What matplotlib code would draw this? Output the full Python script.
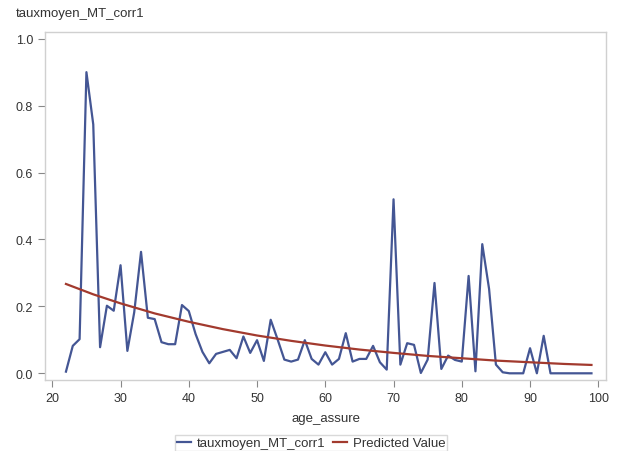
import numpy as np
import matplotlib
matplotlib.use("Agg")
import matplotlib.pyplot as plt

# ============================================================
# DATA
# ============================================================

ages = np.arange(22, 100)

taux = [
    0.005, 0.082, 0.102, 0.900, 0.744, 0.078, 0.202, 0.187, 0.323, 0.067,
    0.182, 0.363, 0.166, 0.162, 0.093, 0.087, 0.087, 0.204, 0.186, 0.117,
    0.064, 0.030, 0.058, 0.064, 0.070, 0.045, 0.110, 0.061, 0.099, 0.037,
    0.160, 0.102, 0.041, 0.035, 0.041, 0.099, 0.043, 0.026, 0.063, 0.026,
    0.043, 0.120, 0.035, 0.043, 0.043, 0.082, 0.033, 0.011, 0.520, 0.026,
    0.090, 0.085, 0.001, 0.041, 0.270, 0.013, 0.053, 0.040, 0.035, 0.291,
    0.006, 0.386, 0.252, 0.026, 0.003, 0.000, 0.000, 0.000, 0.075, 0.000,
    0.112, 0.000, 0.000, 0.000, 0.000, 0.000, 0.000, 0.000,
]

pred_ages = [22, 26, 30, 35, 40, 45, 50, 55, 60, 65, 70, 75, 80, 85, 90, 95, 99]
pred_vals = [0.267, 0.236, 0.209, 0.179, 0.154, 0.132, 0.113, 0.097, 0.083,
             0.071, 0.061, 0.052, 0.045, 0.038, 0.033, 0.028, 0.025]

x_ticks = [20, 30, 40, 50, 60, 70, 80, 90, 100]
y_ticks = [0.0, 0.2, 0.4, 0.6, 0.8, 1.0]

# ============================================================
# PLOT
# ============================================================

plt.rcParams['font.family'] = ['Liberation Sans', 'DejaVu Sans']

fig = plt.figure(figsize=(6.22, 4.52), dpi=100)
ax = fig.add_axes([45 / 622, 1 - 381 / 452, 561 / 622, 348 / 452])

l1, = ax.plot(ages, taux, color='#445694', linewidth=1.6,
              label='tauxmoyen_MT_corr1')
l2, = ax.plot(pred_ages, pred_vals, color='#A23A2E', linewidth=1.6,
              label='Predicted Value')

ax.set_xlim(18.93, 101.13)
ax.set_ylim(-0.020, 1.020)
ax.set_xticks(x_ticks)
ax.set_yticks(y_ticks)
ax.set_yticklabels([f"{v:.1f}" for v in y_ticks])

for s in ax.spines.values():
    s.set_color('#d0d0d0')
    s.set_linewidth(1.0)

ax.tick_params(axis='both', colors='#888888', labelcolor='#333333',
               labelsize=9, length=5, width=0.8, direction='out')

ax.set_xlabel("age_assure", fontsize=9.5, color='#333333', labelpad=6)

fig.text(16 / 622, 1 - 14 / 452, "tauxmoyen_MT_corr1", fontsize=9.5,
         color='#333333', va='center', ha='left')

leg = fig.legend(handles=[l1, l2], loc='upper center',
                 bbox_to_anchor=(311 / 622, 1 - 436 / 452), ncol=2,
                 fontsize=9.5, frameon=True, fancybox=False,
                 handlelength=1.1, handletextpad=0.4, columnspacing=0.6,
                 borderpad=0.15, borderaxespad=0.0)
leg.get_frame().set_edgecolor('#d0d0d0')
leg.get_frame().set_linewidth(1.0)
for t in leg.get_texts():
    t.set_color('#333333')

fig.savefig("out.png", dpi=100)
